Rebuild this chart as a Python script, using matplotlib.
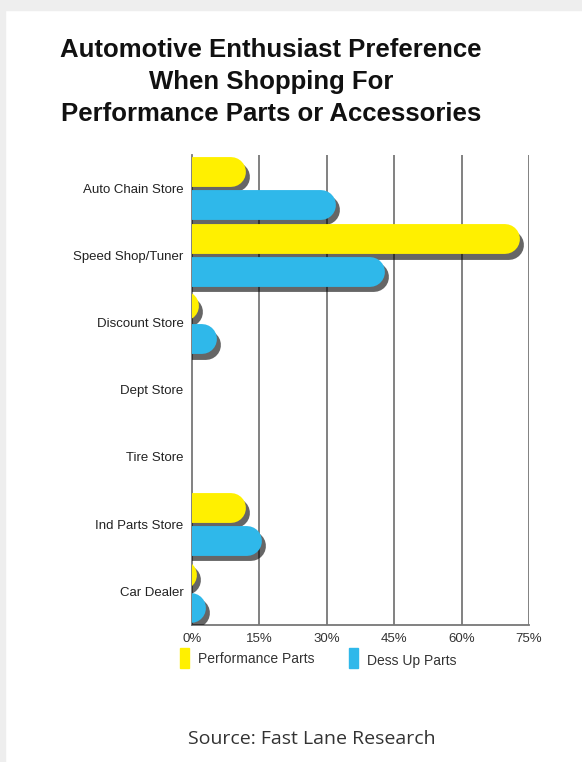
import numpy as np
import matplotlib
matplotlib.use("Agg")
import matplotlib.pyplot as plt
import matplotlib.patheffects as pe
from matplotlib.patches import Rectangle

# données
magasins = ["Auto Chain Store", "Speed Shop/Tuner", "Discount Store", "Dept Store",
            "Tire Store", "Ind Parts Store", "Car Dealer"]
perf = [12, 73, 1.5, 0, 0, 12, 1]
dress = [32, 43, 5.5, 0, 0, 15.5, 3]
ticks = [0, 15, 30, 45, 60, 75]
jaune = "#FFF000"
bleu = "#2FB8EA"

narrow = "Liberation Sans"

fig = plt.figure(figsize=(5.82, 7.62), dpi=100)
fig.patch.set_facecolor("white")
# bordure grise du fond
fig.patches.append(Rectangle((0, 0.987), 1, 0.013, transform=fig.transFigure, color="#eeeeee", zorder=0))
fig.patches.append(Rectangle((0, 0), 0.009, 1, transform=fig.transFigure, color="#eeeeee", zorder=0))

ax = fig.add_axes([0.330, 0.180, 0.579, 0.617])
ax.set_xlim(0, 75)
ax.set_ylim(len(magasins) - 0.5, -0.5)

lw = 21.5  # épaisseur des barres en points
# rayon du bout arrondi en unités de données
r = (lw / 2) * (100 / 72) / (0.579 * 582) * 75

ombre = [pe.SimpleLineShadow(offset=(3, -4), shadow_color="black", alpha=0.6), pe.Normal()]
y = np.arange(len(magasins))
for i in range(len(magasins)):
    for val, col, dy in [(perf[i], jaune, -0.245), (dress[i], bleu, 0.245)]:
        if val <= 0:
            continue
        ax.plot([-r, val - r], [y[i] + dy, y[i] + dy], color=col, lw=lw,
                solid_capstyle="round", path_effects=ombre, zorder=3)

for t in ticks[1:]:
    ax.axvline(t, color="#777777", lw=1.3, zorder=1)

ax.set_xticks(ticks)
ax.set_xticklabels([str(t) + "%" for t in ticks], family=narrow, fontsize=9.5, color="#333333")
ax.set_yticks(y)
ax.set_yticklabels(magasins, family=narrow, fontsize=9.5, color="#222222")
ax.tick_params(length=0, pad=6)
for s in ["top", "right"]:
    ax.spines[s].set_visible(False)
ax.spines["left"].set_color("#777777")
ax.spines["bottom"].set_color("#777777")
ax.spines["left"].set_linewidth(1.3)
ax.spines["bottom"].set_linewidth(1.3)

fig.text(0.466, 0.950, "Automotive Enthusiast Preference\nWhen Shopping For\nPerformance Parts or Accessories",
         ha="center", va="top", fontsize=18.5, fontweight="bold", family="Liberation Sans",
         linespacing=1.42, color="#111111")

# légende
fig.patches.append(Rectangle((0.310, 0.123), 0.015, 0.027, transform=fig.transFigure, color=jaune))
fig.text(0.340, 0.135, "Performance Parts", va="center", fontsize=10, family=narrow, color="#333333")
fig.patches.append(Rectangle((0.600, 0.123), 0.015, 0.027, transform=fig.transFigure, color=bleu))
fig.text(0.630, 0.132, "Dess Up Parts", va="center", fontsize=10, family=narrow, color="#333333")

fig.text(0.535, 0.023, "Source: Fast Lane Research", ha="center", fontsize=14, family="Open Sans", color="#333333")

plt.savefig("out.png", dpi=100)
